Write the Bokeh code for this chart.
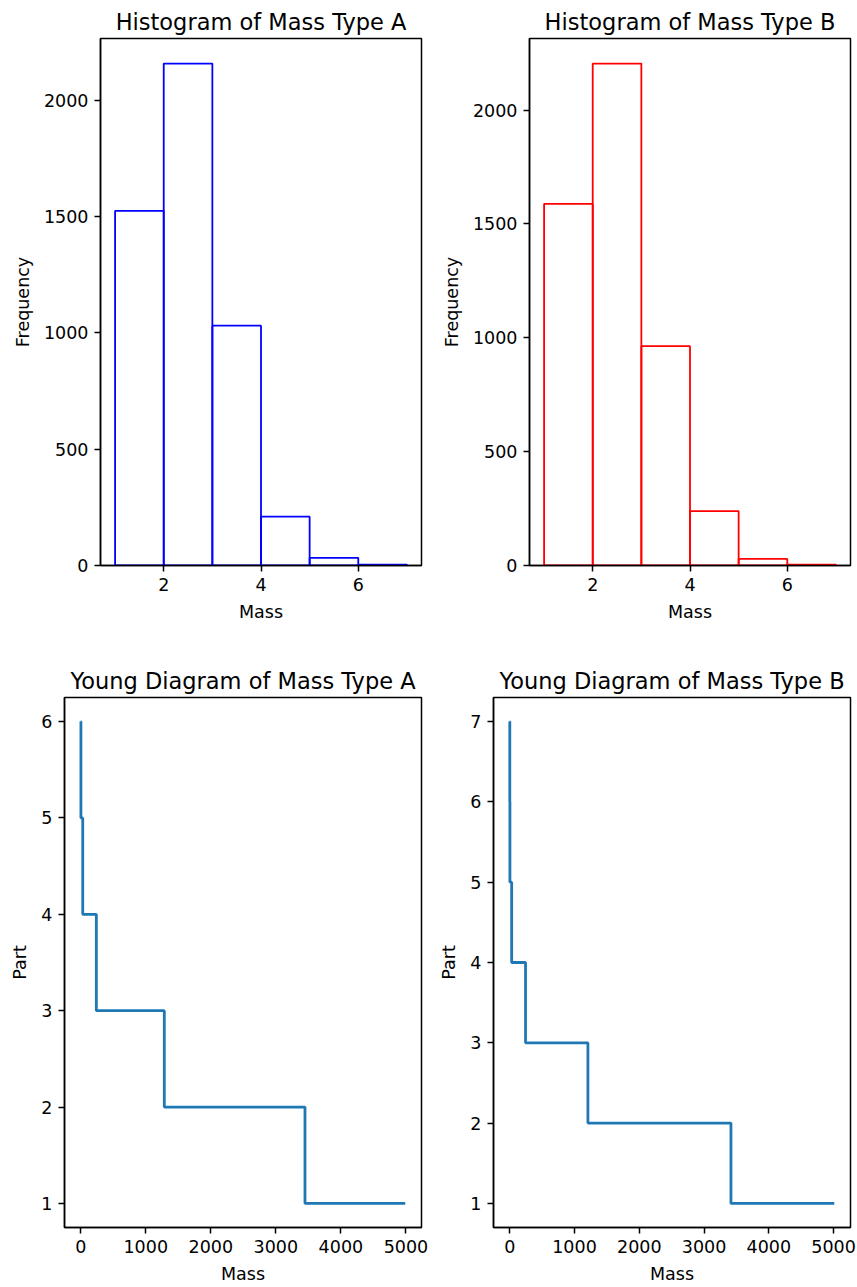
from bokeh.plotting import figure
from bokeh.layouts import column, row
from bokeh.models import Range1d, FixedTicker
from bokeh.embed import file_html
from bokeh.resources import INLINE

# ---- data ----
bin_edges = [1, 2, 3, 4, 5, 6, 7]
counts_a = [1525, 2158, 1031, 210, 33, 4]
counts_b = [1588, 2204, 963, 239, 29, 4]

young_a_mass = [0, 3, 31, 240, 1285, 3448, 4990]
young_a_part = [6, 5, 4, 3, 2, 1]
young_b_mass = [0, 1, 3, 30, 244, 1207, 3415, 5010]
young_b_part = [7, 6, 5, 4, 3, 2, 1]

hist_xticks = [2, 4, 6]
hist_yticks = [0, 500, 1000, 1500, 2000]
young_xticks = [0, 1000, 2000, 3000, 4000, 5000]

FONT = "DejaVu Sans"
TICK_PX = "17.5px"
LABEL_PX = "17.5px"
TITLE_PX = "22.5px"


def style(p):
    p.toolbar_location = None
    p.xgrid.visible = False
    p.ygrid.visible = False
    p.outline_line_color = "black"
    p.outline_line_width = 1.5
    p.outline_line_alpha = 1
    p.background_fill_color = "white"
    p.border_fill_color = "white"
    p.title.text_font = FONT
    p.title.text_font_size = TITLE_PX
    p.title.text_font_style = "normal"
    p.title.text_color = "black"
    p.title.align = "center"
    p.title.standoff = 8
    for ax in (p.xaxis[0], p.yaxis[0]):
        ax.axis_line_color = "black"
        ax.axis_line_width = 1.5
        ax.major_tick_line_color = "black"
        ax.major_tick_line_width = 1.5
        ax.major_tick_out = 6
        ax.major_tick_in = 0
        ax.minor_tick_line_color = None
        ax.major_label_text_font = FONT
        ax.major_label_text_font_size = TICK_PX
        ax.major_label_text_color = "black"
        ax.major_label_standoff = 6
        ax.axis_label_text_font = FONT
        ax.axis_label_text_font_size = LABEL_PX
        ax.axis_label_text_font_style = "normal"
        ax.axis_label_text_color = "black"
        ax.axis_label_standoff = 8


def hist_fig(title, counts, color, width, bl, br):
    lo, hi = bin_edges[0], bin_edges[-1]
    span = hi - lo
    top = max(counts) * 1.05
    p = figure(width=width, height=650, title=title, output_backend="svg",
               toolbar_location=None,
               x_range=Range1d(lo - 0.05 * span, hi + 0.05 * span),
               y_range=Range1d(0, top),
               min_border_left=bl, min_border_right=br,
               min_border_top=38, min_border_bottom=85)
    p.quad(left=bin_edges[:-1], right=bin_edges[1:], top=counts, bottom=0,
           fill_alpha=0, line_color=color, line_width=1.8)
    style(p)
    p.xaxis.ticker = FixedTicker(ticks=hist_xticks)
    p.yaxis.ticker = FixedTicker(ticks=hist_yticks)
    p.xaxis.axis_label = "Mass"
    p.yaxis.axis_label = "Frequency"
    return p


def young_fig(title, mass, parts, width, bl, br):
    span = mass[-1] - mass[0]
    pspan = max(parts) - min(parts)
    p = figure(width=width, height=637, title=title, output_backend="svg",
               toolbar_location=None,
               x_range=Range1d(mass[0] - 0.05 * span, mass[-1] + 0.05 * span),
               y_range=Range1d(min(parts) - 0.05 * pspan, max(parts) + 0.05 * pspan),
               min_border_left=bl, min_border_right=br,
               min_border_top=47, min_border_bottom=60)
    p.step(x=mass, y=list(parts) + [parts[-1]], mode="after",
           line_color="#1f77b4", line_width=2.8)
    style(p)
    p.xaxis.ticker = FixedTicker(ticks=young_xticks)
    p.yaxis.ticker = FixedTicker(ticks=list(range(min(parts), max(parts) + 1)))
    p.xaxis.axis_label = "Mass"
    p.yaxis.axis_label = "Part"
    return p


p1 = hist_fig("Histogram of Mass Type A", counts_a, "blue", 429, 100, 8)
p2 = hist_fig("Histogram of Mass Type B", counts_b, "red", 428, 100, 7)
p3 = young_fig("Young Diagram of Mass Type A", young_a_mass, young_a_part, 429, 64, 8)
p4 = young_fig("Young Diagram of Mass Type B", young_b_mass, young_b_part, 428, 64, 7)

layout = column(row(p1, p2, spacing=0), row(p3, p4, spacing=0), spacing=0)

open("out.html", "w").write(file_html(layout, INLINE))
